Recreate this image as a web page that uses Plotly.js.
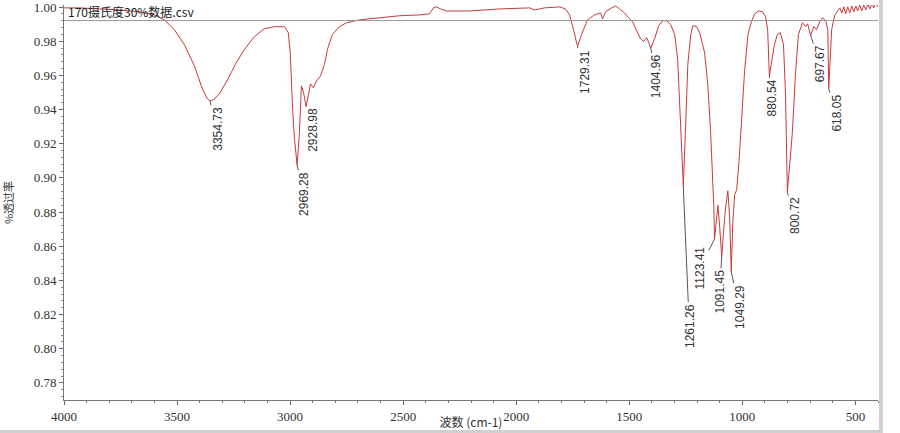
<!DOCTYPE html>
<html>
<head>
<meta charset="utf-8">
<script src="https://cdn.plot.ly/plotly-3.0.1.min.js"></script>
<style>
  body { margin: 0; background: #fff; }
  #frame { width: 879px; height: 430px; border-right: 4px solid #d0d0d0; border-bottom: 3px solid #d0d0d0; }
</style>
</head>
<body>
<div id="frame"><div id="chart"></div></div>
<script>
// spectrum: wavenumber (cm-1) and transmittance
const wavenumber = [
    4000, 3932, 3844, 3755, 3667, 3600, 3556, 3512, 3468, 3423,
    3388, 3366, 3355, 3339, 3313, 3277, 3242, 3202, 3158, 3114,
    3069, 3025, 3008, 2999, 2990, 2981, 2969, 2959, 2950, 2941,
    2929, 2919, 2910, 2897, 2884, 2866, 2848, 2835, 2813, 2782,
    2751, 2693, 2605, 2516, 2428, 2384, 2366, 2353, 2335, 2308,
    2207, 2074, 1941, 1919, 1875, 1809, 1782, 1764, 1747, 1729,
    1711, 1685, 1654, 1627, 1618, 1605, 1578, 1560, 1543, 1521,
    1503, 1485, 1468, 1450, 1437, 1423, 1412, 1405, 1388, 1370,
    1352, 1335, 1317, 1299, 1286, 1275, 1261, 1252, 1241, 1228,
    1219, 1202, 1189, 1167, 1153, 1140, 1131, 1126, 1123, 1115,
    1108, 1100, 1091, 1085, 1075, 1064, 1056, 1049, 1042, 1034,
    1025, 1015, 1004, 990, 975, 960, 946, 928, 910, 897,
    888, 880.5, 872, 858, 845, 832, 818, 809, 801, 792,
    779, 765, 752, 734, 720, 711, 698, 684, 671, 658,
    645, 631, 622, 618, 611, 605, 591, 578, 569, 560,
    551, 543, 534, 525, 516, 507, 498, 490, 481, 472,
    463, 454, 445, 436, 427, 419, 410, 401
];
const transmittance = [
    0.9995, 0.9995, 0.9989, 0.9983, 0.9972, 0.9954, 0.9925, 0.9868, 0.9781, 0.9654,
    0.9521, 0.9463, 0.9451, 0.9457, 0.9492, 0.9573, 0.9665, 0.9752, 0.9827, 0.9873,
    0.9885, 0.9885, 0.9850, 0.9724, 0.9434, 0.9232, 0.9076, 0.9261, 0.9538, 0.9503,
    0.9417, 0.9492, 0.9550, 0.9527, 0.9567, 0.9596, 0.9665, 0.9752, 0.9839, 0.9885,
    0.9908, 0.9925, 0.9937, 0.9949, 0.9954, 0.9960, 0.9995, 1.0001, 0.9989, 0.9977,
    0.9977, 0.9989, 0.9995, 0.9983, 0.9995, 1.0001, 0.9989, 0.9954, 0.9868, 0.9769,
    0.9839, 0.9925, 0.9954, 0.9966, 0.9931, 0.9972, 0.9995, 1.0006, 0.9989, 0.9966,
    0.9937, 0.9914, 0.9862, 0.9815, 0.9798, 0.9821, 0.9786, 0.9758, 0.9815, 0.9891,
    0.9920, 0.9920, 0.9897, 0.9839, 0.9694, 0.9376, 0.8954, 0.9261, 0.9665, 0.9839,
    0.9891, 0.9885, 0.9850, 0.9735, 0.9550, 0.9261, 0.9000, 0.8827, 0.8642, 0.8758,
    0.8839, 0.8711, 0.8538, 0.8654, 0.8815, 0.8925, 0.8769, 0.8451, 0.8740, 0.8902,
    0.8931, 0.9087, 0.9336, 0.9625, 0.9839, 0.9914, 0.9960, 0.9977, 0.9972, 0.9943,
    0.9868, 0.9596, 0.9665, 0.9781, 0.9839, 0.9850, 0.9781, 0.9492, 0.8914, 0.9058,
    0.9261, 0.9607, 0.9839, 0.9908, 0.9885, 0.9902, 0.9833, 0.9885, 0.9868, 0.9914,
    0.9937, 0.9920, 0.9868, 0.9521, 0.9723, 0.9868, 0.9954, 0.9977, 0.9995, 0.9966,
    1.0001, 0.9960, 1.0001, 0.9966, 1.0006, 0.9972, 1.0006, 0.9977, 1.0012, 0.9977,
    1.0012, 0.9983, 1.0018, 0.9989, 1.0024, 0.9995, 1.0024, 1.0001
];

// labelled peaks
const peakWn = [3354.73, 2969.28, 2928.98, 1729.31, 1404.96, 1261.26, 1123.41,
                1091.45, 1049.29, 880.54, 800.72, 697.67, 618.05];
const peakT = [0.9451, 0.9076, 0.9417, 0.9769, 0.9758, 0.8954, 0.8642,
               0.8538, 0.8451, 0.9596, 0.8914, 0.9833, 0.9521];

// where each label sits relative to its peak (px)
const labelOffsets = [[8, 28], [7, 29], [6, 23], [7, 25], [6, 28], [6, 140], [-14, 29],
                      [-2, 35], [8, 35], [3, 22], [7, 23], [9, 28], [8, 24]];

const baselineT = 0.9921;
const xTicks = [4000, 3500, 3000, 2500, 2000, 1500, 1000, 500];
const fileName = "170摄氏度30%数据.csv";

const peakNotes = peakWn.map((wn, i) => ({
    x: wn,
    y: peakT[i],
    text: wn.toFixed(2),
    textangle: -90,
    showarrow: true,
    arrowhead: 0,
    arrowwidth: 1,
    arrowcolor: "#555",
    ax: labelOffsets[i][0],
    ay: labelOffsets[i][1],
    font: {family: "Liberation Sans, Arial", size: 12, color: "#333"},
}));

Plotly.newPlot("chart", [{
    x: wavenumber,
    y: transmittance,
    mode: "lines",
    line: {color: "#c43c3c", width: 1},
    hoverinfo: "x+y",
    showlegend: false,
}], {
    width: 879,
    height: 430,
    margin: {l: 64, r: 1, t: 5, b: 30},
    paper_bgcolor: "#fff",
    plot_bgcolor: "#fff",
    font: {family: "Liberation Serif, serif", size: 13, color: "#333"},
    xaxis: {
        range: [4000, 400],
        tickvals: xTicks,
        ticks: "outside",
        ticklen: 4,
        tickcolor: "#666",
        showline: true,
        linecolor: "#777",
        showgrid: false,
        zeroline: false,
        minor: {dtick: 100, ticks: "outside", ticklen: 2, tickcolor: "#777"},
        tickfont: {family: "Liberation Serif, serif", size: 13, color: "#333"},
        title: {text: "波数 (cm-1)", standoff: 6,
                font: {family: "Noto Sans CJK SC", size: 12, color: "#333"}},
    },
    yaxis: {
        range: [0.77, 1.0012],
        tick0: 0.78,
        dtick: 0.02,
        tickformat: ".2f",
        ticks: "outside",
        ticklen: 4,
        tickcolor: "#666",
        ticklabeloverflow: "allow",
        showline: true,
        linecolor: "#777",
        showgrid: false,
        zeroline: false,
        minor: {dtick: 0.004, ticks: "outside", ticklen: 2, tickcolor: "#888"},
        tickfont: {family: "Liberation Serif, serif", size: 13, color: "#333"},
        title: {text: "%透过率", standoff: 18,
                font: {family: "Noto Sans CJK SC", size: 11, color: "#333"}},
    },
    shapes: [{
        type: "line", xref: "paper", x0: 0, x1: 1,
        yref: "y", y0: baselineT, y1: baselineT,
        line: {color: "#999", width: 1},
    }],
    annotations: [{
        xref: "paper", yref: "paper", x: 0, y: 1,
        xanchor: "left", yanchor: "top", xshift: 2, yshift: 4,
        text: fileName, showarrow: false,
        font: {family: "Noto Sans CJK SC", size: 12, color: "#222"},
    }].concat(peakNotes),
}, {displayModeBar: false});
</script>
</body>
</html>
